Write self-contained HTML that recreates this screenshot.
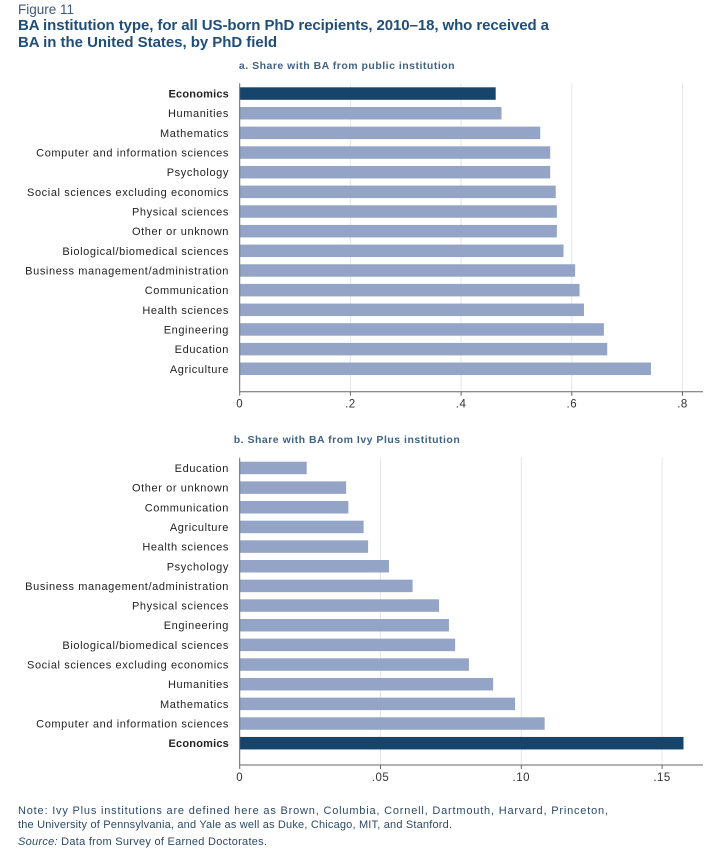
<!DOCTYPE html>
<html><head><meta charset="utf-8"><style>
body{margin:0;background:#fff;}
svg text{font-family:"Liberation Sans",sans-serif;}
</style></head><body>
<svg id="fig" width="712" height="858" viewBox="0 0 712 858" xmlns="http://www.w3.org/2000/svg">
<text x="18" y="14" font-size="13.5" fill="#3d5a78">Figure 11</text>
<text x="18" y="30" font-size="15" font-weight="bold" fill="#1f4e79" textLength="531" lengthAdjust="spacing">BA institution type, for all US-born PhD recipients, 2010–18, who received a</text>
<text x="18" y="47" font-size="15" font-weight="bold" fill="#1f4e79" textLength="259" lengthAdjust="spacing">BA in the United States, by PhD field</text>
<text x="347" y="69" font-size="10.5" font-weight="bold" fill="#3f6384" text-anchor="middle" letter-spacing="0.5">a. Share with BA from public institution</text>
<text x="347" y="443" font-size="10.5" font-weight="bold" fill="#3f6384" text-anchor="middle" letter-spacing="0.5">b. Share with BA from Ivy Plus institution</text>
<g id="pa"></g>
<g id="pb"></g>
<text x="18" y="814" font-size="11" fill="#2c4a66" textLength="590" lengthAdjust="spacing">Note: Ivy Plus institutions are defined here as Brown, Columbia, Cornell, Dartmouth, Harvard, Princeton,</text>
<text x="18" y="828" font-size="11" fill="#2c4a66" textLength="434" lengthAdjust="spacing">the University of Pennsylvania, and Yale as well as Duke, Chicago, MIT, and Stanford.</text>
<text x="18" y="845" font-size="11" fill="#2c4a66" textLength="249" lengthAdjust="spacing"><tspan font-style="italic">Source:</tspan> Data from Survey of Earned Doctorates.</text>
</svg>
<script>
const catsA=["Economics","Humanities","Mathematics","Computer and information sciences","Psychology","Social sciences excluding economics","Physical sciences","Other or unknown","Biological/biomedical sciences","Business management/administration","Communication","Health sciences","Engineering","Education","Agriculture"];
const valsA=[0.4625,0.473,0.543,0.561,0.561,0.571,0.573,0.573,0.585,0.606,0.614,0.622,0.658,0.664,0.743];
const ticksA=[0,0.2,0.4,0.6,0.8];
const tickLabelsA=["0",".2",".4",".6",".8"];
const catsB=["Education","Other or unknown","Communication","Agriculture","Health sciences","Psychology","Business management/administration","Physical sciences","Engineering","Biological/biomedical sciences","Social sciences excluding economics","Humanities","Mathematics","Computer and information sciences","Economics"];
const valsB=[0.0238,0.0378,0.0386,0.0440,0.0456,0.0530,0.0614,0.0708,0.0743,0.0765,0.0814,0.0900,0.0978,0.1083,0.1576];
const ticksB=[0,0.05,0.10,0.15];
const tickLabelsB=["0",".05",".10",".15"];
const NS="http://www.w3.org/2000/svg";
function mk(p,tag,at){const e=document.createElementNS(NS,tag);for(const k in at)e.setAttribute(k,at[k]);p.appendChild(e);return e;}
function panel(g,cats,vals,ticks,labels,scale,barTop,axisY,pfx){
  const x0=239.7,pitch=19.66,bh=12.5;
  const X=v=>x0+v*scale;
  ticks.forEach((t,i)=>{
    if(t>0){const l=mk(g,'line',{x1:X(t),x2:X(t),y1:barTop-4,y2:axisY,stroke:'#e3e6ea','stroke-width':1});
    
    }
    const tk=mk(g,'line',{x1:X(t),x2:X(t),y1:axisY,y2:axisY+4,stroke:'#666'});
    
    
    const tl=mk(g,'text',{x:X(t),y:axisY+16,'font-size':11.5,fill:'#333','text-anchor':'middle','letter-spacing':0.5});
    tl.textContent=labels[i];
    
    
  });
  cats.forEach((c,i)=>{
    const y=barTop+i*pitch;
    const eco=c==="Economics";
    const r=mk(g,'rect',{x:x0,y:y,width:X(vals[i])-x0,height:bh,fill:eco?'#17446a':'#93a4c6'});
    
    
    const t=mk(g,'text',{x:229,y:y+bh/2+4,'font-size':11,fill:'#222','text-anchor':'end','font-weight':eco?'bold':'normal','letter-spacing':eco?0.2:0.6});
    t.textContent=c;
    
    
  });
  const ax=mk(g,'line',{x1:x0,x2:703,y1:axisY,y2:axisY,stroke:'#666','stroke-width':1});
  
  
  const ay=mk(g,'line',{x1:x0,x2:x0,y1:barTop-4,y2:axisY,stroke:'#666','stroke-width':1});
  
  
}
panel(document.getElementById('pa'),catsA,valsA,ticksA,tickLabelsA,553.5,87.3,391.7,'panel-a');
panel(document.getElementById('pb'),catsB,valsB,ticksB,tickLabelsB,2816,461.7,765,'panel-b');
</script>
</body></html>
